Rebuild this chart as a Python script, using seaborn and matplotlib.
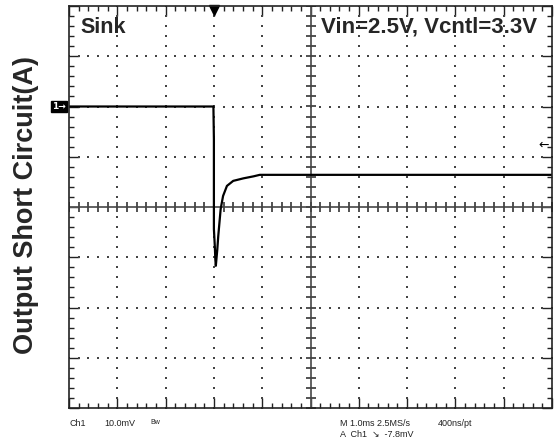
import numpy as np
import seaborn as sns
import matplotlib.pyplot as plt
import matplotlib.transforms as mtransforms

sns.set_style("white")
plt.rcParams['font.family'] = ['Liberation Sans', 'DejaVu Sans']

# waveform, in scope divisions (x: 0..10, y: -4..4)
time_div = [0.0, 2.99, 3.00, 3.00, 3.02, 3.03, 3.04, 3.07, 3.09, 3.14,
            3.19, 3.27, 3.40, 3.61, 3.82, 3.95, 10.0]
level_div = [2.00, 2.00, 1.35, -0.44, -0.80, -1.05, -1.17, -0.85, -0.58, -0.04,
             0.22, 0.42, 0.52, 0.57, 0.61, 0.64, 0.64]

ch1_ref = 2.0          # "1->" ground marker level
trig_pos = 3.0         # trigger marker on top edge
trig_level = 1.23      # trigger level arrow on right edge

title_left = "Sink"
title_right = "Vin=2.5V, Vcntl=3.3V"
ylabel = "Output Short Circuit(A)"
footer_left = ["Ch1", "10.0mV", "Bw"]
footer_right = ["M 1.0ms 2.5MS/s", "400ns/pt", "A  Ch1  \u2198  -7.8mV"]

fig = plt.figure(figsize=(5.59, 4.44), dpi=100)
ax = fig.add_axes([69 / 559, 36 / 444, 483 / 559, 402 / 444])
ax.set_xlim(0, 10)
ax.set_ylim(-4, 4)

# dotted graticule
fine_x = np.arange(0, 10.01, 0.2)
fine_y = np.arange(-4, 4.01, 0.2)
for gx in [1, 2, 3, 4, 6, 7, 8, 9]:
    ax.scatter(np.full(len(fine_y), gx), fine_y, s=1.0, color='#444444', marker='s', linewidths=0)
for gy in [-3, -2, -1, 1, 2, 3]:
    ax.scatter(fine_x, np.full(len(fine_x), gy), s=1.0, color='#444444', marker='s', linewidths=0)

# centre cross with ticks
ax.axhline(0, color='#555555', lw=1.3)
ax.axvline(5, color='#555555', lw=1.3)
ax.plot(fine_x, np.zeros(len(fine_x)), ls='none', marker='|', ms=7, mew=1.3, color='#444444')
ax.plot(np.full(len(fine_y), 5), fine_y, ls='none', marker='_', ms=7, mew=1.3, color='#444444')

# border ticks
ax.set_xticks(np.arange(0, 11, 1))
ax.set_xticks(fine_x, minor=True)
ax.set_yticks(np.arange(-4, 5, 1))
ax.set_yticks(fine_y, minor=True)
ax.tick_params(which='both', direction='in', top=True, right=True, bottom=True, left=True,
               labelbottom=False, labelleft=False, color='#222222', width=1.0)
ax.tick_params(which='major', length=7.5)
ax.tick_params(which='minor', length=3.8)
for sp in ax.spines.values():
    sp.set_linewidth(1.2)
    sp.set_color('#222222')

# waveform
sns.lineplot(x=time_div, y=level_div, sort=False, estimator=None, color='black', lw=1.6, ax=ax)

# markers
ax.plot([trig_pos], [3.93], marker='v', ms=6.5, color='black', clip_on=False)
ax.text(9.93, trig_level, "\u2190", ha='right', va='center', fontsize=9, color='black',
        family='DejaVu Sans')
blend = mtransforms.blended_transform_factory(ax.transAxes, ax.transData)
ax.text(-0.006, ch1_ref, "1\u2192", transform=blend, ha='right', va='center', fontsize=6.5,
        color='white', fontweight='bold', family='DejaVu Sans',
        bbox=dict(boxstyle='square,pad=0.15', fc='black', ec='black'))

# titles inside the screen
fig.text(80 / 559, 1 - 33 / 444, title_left, fontsize=15.5, fontweight='bold', va='baseline')
fig.text(321 / 559, 1 - 33 / 444, title_right, fontsize=16, fontweight='bold', va='baseline')

fig.text(26 / 559, 1 - 205 / 444, ylabel, rotation=90, fontsize=19.5, fontweight='bold',
         ha='center', va='center')

# footer readouts
foot_kw = dict(fontsize=6.5, color='#222222', va='center')
fig.text(70 / 559, 1 - 423 / 444, footer_left[0], **foot_kw)
fig.text(104 / 559, 1 - 423 / 444, footer_left[1], **foot_kw)
fig.text(150 / 559, 1 - 422 / 444, footer_left[2], fontsize=5, color='#222222', va='center')
fig.text(340 / 559, 1 - 423 / 444, footer_right[0], **foot_kw)
fig.text(438 / 559, 1 - 423 / 444, footer_right[1], **foot_kw)
fig.text(340 / 559, 1 - 434 / 444, footer_right[2], **foot_kw)

fig.savefig("out.png", dpi=100)
